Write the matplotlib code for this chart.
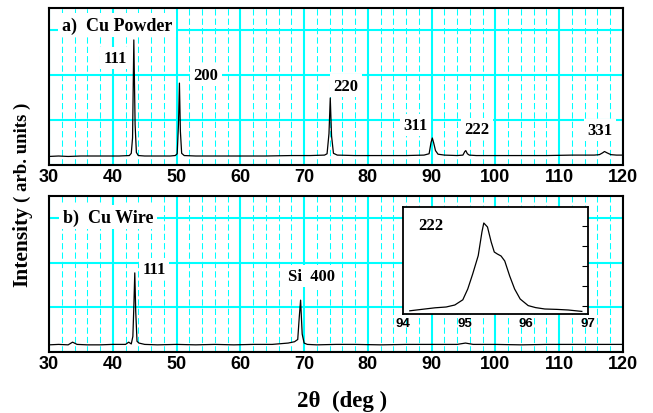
import matplotlib
matplotlib.use("Agg")
import matplotlib.pyplot as plt
from matplotlib.ticker import MultipleLocator

# ---- data ----
# a) Cu powder pattern (2theta in deg, intensity in arb. units)
powder_2theta = [30, 31.5, 33, 35, 37, 39, 41, 42.6, 42.9, 43.1, 43.3, 43.5, 43.7, 44.0,
                 45, 47, 49, 49.8, 50.1, 50.3, 50.45, 50.6, 50.8, 51.2, 53, 56, 60, 64,
                 68, 71, 73.2, 73.6, 73.9, 74.1, 74.3, 74.6, 75.2, 78, 82, 86, 88.8,
                 89.6, 89.9, 90.1, 90.3, 90.6, 91.0, 92, 94.0, 94.9, 95.2, 95.35, 95.6,
                 95.9, 97, 100, 104, 108, 112, 115.5, 116.3, 116.8, 117.1, 117.5,
                 118.1, 119, 120]
powder_int = [0.19, 0.20, 0.19, 0.20, 0.20, 0.20, 0.20, 0.21, 0.26, 0.6, 2.78, 0.9, 0.28, 0.21,
              0.20, 0.20, 0.20, 0.21, 0.25, 0.9, 1.82, 0.75, 0.26, 0.21, 0.20, 0.20, 0.20, 0.20,
              0.21, 0.21, 0.22, 0.25, 0.7, 1.49, 0.65, 0.26, 0.22, 0.21, 0.21, 0.21, 0.22,
              0.25, 0.5, 0.60, 0.50, 0.32, 0.24, 0.22, 0.21, 0.22, 0.30, 0.32, 0.25,
              0.22, 0.21, 0.21, 0.21, 0.21, 0.22, 0.22, 0.23, 0.27, 0.30, 0.27,
              0.23, 0.22, 0.22]

# b) Cu wire pattern
wire_2theta = [30, 31.5, 33, 33.7, 34.4, 36, 38, 40, 42, 42.5, 42.9, 43.15, 43.3, 43.45,
               43.6, 43.8, 44.1, 45, 47, 50, 53, 56, 59, 62, 65, 67.5, 68.5, 69.0,
               69.25, 69.45, 69.55, 69.7, 70.0, 70.5, 72, 75, 78, 82, 86, 90, 94,
               95.3, 96.5, 100, 104, 108, 112, 116, 120]
wire_int = [0.16, 0.17, 0.16, 0.22, 0.17, 0.16, 0.16, 0.17, 0.17, 0.22, 0.18, 0.35, 1.0, 1.77,
            0.9, 0.24, 0.20, 0.17, 0.16, 0.17, 0.16, 0.17, 0.16, 0.17, 0.17, 0.20, 0.23, 0.28,
            0.8, 1.16, 0.85, 0.4, 0.20, 0.17, 0.16, 0.17, 0.17, 0.16, 0.17, 0.17, 0.17,
            0.20, 0.17, 0.17, 0.16, 0.17, 0.17, 0.17, 0.17]

# inset: Cu wire 222 reflection
inset_2theta = [94.11, 94.3, 94.52, 94.7, 94.84, 94.97, 95.05, 95.13, 95.22, 95.28, 95.31,
                95.37, 95.43, 95.48, 95.53, 95.59, 95.65, 95.73, 95.81, 95.90, 96.03,
                96.15, 96.30, 96.5, 96.68, 96.9]
inset_int = [-0.24, -0.17, -0.09, -0.05, 0.05, 0.31, 0.85, 1.6, 2.52, 3.7, 4.15,
             3.95, 3.2, 2.7, 2.6, 2.5, 2.25, 1.5, 0.85, 0.35, 0.02,
             -0.08, -0.15, -0.17, -0.2, -0.27]

powder_peaks = ["111", "200", "220", "311", "222", "331"]
powder_label_pos = [(40.35, 2.38), (54.6, 2.0), (76.6, 1.76), (87.5, 0.89), (97.1, 0.80), (116.4, 0.78)]
wire_peaks = ["111", "Si  400"]
wire_label_pos = [(46.5, 1.86), (71.2, 1.70)]

W, H = 653, 414
CYAN = "#00ffff"
serif = ["Liberation Serif", "DejaVu Serif"]
narrow = ["Liberation Sans Narrow", "Liberation Sans", "DejaVu Sans"]

fig = plt.figure(figsize=(W / 100, H / 100), dpi=100)


def px_axes(left, top, right, bottom):
    return fig.add_axes([left / W, 1 - bottom / H, (right - left) / W, (bottom - top) / H])


def style_panel(ax):
    ax.set_xlim(30, 120)
    ax.set_ylim(0, 3.49)
    ax.xaxis.set_major_locator(MultipleLocator(10))
    ax.xaxis.set_minor_locator(MultipleLocator(2))
    ax.yaxis.set_major_locator(MultipleLocator(1))
    ax.grid(True, which="major", color=CYAN, lw=1.5, zorder=0)
    ax.grid(True, which="minor", axis="x", color=CYAN, lw=0.75, ls=(0, (6, 3)), zorder=0)
    ax.set_axisbelow(True)
    ax.tick_params(axis="both", which="both", length=0)
    ax.tick_params(axis="x", pad=2, labelsize=13)
    ax.set_yticklabels([])
    for lab in ax.get_xticklabels():
        lab.set_family(narrow)
        lab.set_fontweight("bold")
    for s in ax.spines.values():
        s.set_linewidth(1.5)


def label(ax, x, y, text, size=12, ha="center"):
    ax.text(x, y, text, ha=ha, va="center", fontsize=size, fontweight="bold", family=serif,
            bbox=dict(facecolor="white", edgecolor="none", boxstyle="square,pad=0.2"), zorder=3)


# top panel
ax1 = px_axes(49, 9, 623, 166)
style_panel(ax1)
ax1.plot(powder_2theta, powder_int, color="black", lw=0.9, zorder=2)
label(ax1, 32.0, 3.11, "a)  Cu Powder", size=13, ha="left")
for t, (x, y) in zip(powder_peaks, powder_label_pos):
    label(ax1, x, y, t)

# bottom panel
ax2 = px_axes(49, 197, 623, 353)
style_panel(ax2)
ax2.plot(wire_2theta, wire_int, color="black", lw=0.9, zorder=2)
label(ax2, 32.2, 3.02, "b)  Cu Wire", size=13, ha="left")
for t, (x, y) in zip(wire_peaks, wire_label_pos):
    label(ax2, x, y, t)

# inset
ax3 = px_axes(403, 208, 588, 315)
ax3.set_facecolor("white")
ax3.set_zorder(5)
ax3.plot(inset_2theta, inset_int, color="black", lw=0.9)
ax3.set_xlim(94, 97)
ax3.set_ylim(-0.4, 4.95)
ax3.set_xticks([94, 95, 96, 97])
ax3.set_yticks([0, 1, 2, 3, 4])
ax3.tick_params(axis="y", direction="in", length=4, left=False, right=True, labelleft=False)
ax3.tick_params(axis="x", length=0, pad=2, labelsize=9.5)
for lab in ax3.get_xticklabels():
    lab.set_family(narrow)
    lab.set_fontweight("bold")
for s in ax3.spines.values():
    s.set_linewidth(1.3)
ax3.text(94.24, 4.05, "222", ha="left", va="center", fontsize=12, fontweight="bold", family=serif)

# axis titles
fig.text(27 / W, 1 - 287 / H, "Intensity", rotation=90, rotation_mode="anchor", ha="left",
         va="baseline", fontsize=15.5, fontweight="bold", family=serif)
fig.text(27 / W, 1 - 202 / H, "( arb. units )", rotation=90, rotation_mode="anchor", ha="left",
         va="baseline", fontsize=13.5, fontweight="bold", family=serif)
fig.text(297 / W, 1 - 407 / H, "2\u03b8  (deg )", ha="left", va="baseline", fontsize=16.5,
         fontweight="bold", family=serif)

fig.savefig("out.png", dpi=100)
